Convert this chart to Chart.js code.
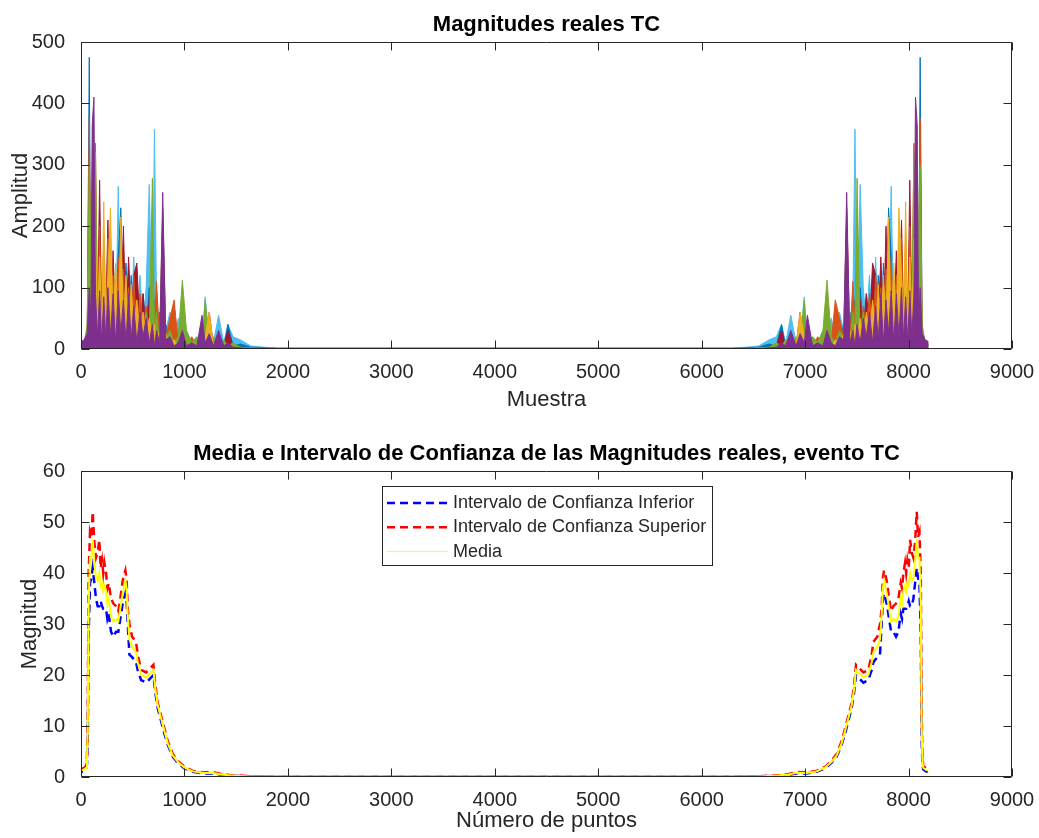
<!DOCTYPE html>
<html>
<head>
<meta charset="utf-8">
<title>Magnitudes reales TC</title>
<script src="https://cdn.jsdelivr.net/npm/chart.js@4.4.1/dist/chart.umd.min.js"></script>
<style>
body { margin: 0; background: #fff; }
canvas { position: absolute; left: 0; }
#magnitudes { top: 0; }
#confianza { top: 419px; }
</style>
</head>
<body>
<canvas id="magnitudes" width="1039" height="419"></canvas>
<canvas id="confianza" width="1039" height="419"></canvas>
<script>
// muestras del espectro (mitad izquierda y su espejo a la derecha)
const muestraX = [0,30,60,80,95,110,125,140,160,180,200,220,240,260,285,310,335,360,385,410,435,460,485,510,540,570,600,630,660,690,710,730,760,790,820,860,900,940,980,1020,1070,1120,1170,1200,1240,1280,1330,1380,1420,1470,1540,1640,1760,1900,
	6292,6432,6552,6652,6722,6772,6812,6862,6912,6952,6992,7022,7072,7122,7172,7212,7252,7292,7332,7372,7402,7432,7462,7482,7502,7532,7562,7592,7622,7652,7682,7707,7732,7757,7782,7807,7832,7857,7882,7907,7932,7952,7972,7992,8012,8032,8052,8067,8082,8097,8112,8132,8162,8192]

const amplitud1 = [10,12,20,475,60,150,40,120,30,90,20,140,35,110,25,130,40,150,230,60,140,30,120,25,110,20,90,30,100,15,80,20,60,10,40,8,30,5,60,10,15,5,20,8,30,5,20,3,40,5,8,3,2,1,
	1,2,3,8,5,40,3,20,5,30,8,20,5,15,10,60,5,30,8,40,10,60,20,80,15,100,30,90,20,110,25,120,30,140,60,230,150,40,130,25,110,35,140,20,90,30,120,40,150,60,475,20,12,10]
const amplitud2 = [8,10,30,375,120,290,60,335,50,200,40,160,30,180,60,120,30,150,40,130,25,100,30,120,20,90,35,70,20,170,40,110,15,230,20,50,80,10,40,5,20,5,10,30,5,15,3,10,2,5,2,1,1,0.5,
	0.5,1,1,2,5,2,10,3,15,5,30,10,5,20,5,40,10,80,50,20,230,15,110,40,170,20,70,35,90,20,120,30,100,25,130,40,150,30,120,60,180,30,160,40,200,50,335,60,290,120,375,30,10,8]
const amplitud3 = [5,6,15,60,30,100,20,180,40,150,30,240,50,120,230,40,140,30,215,40,120,20,105,30,80,20,60,15,50,20,40,10,30,5,25,5,15,3,10,3,8,2,5,20,60,5,10,2,4,1,2,1,0.5,0.3,
	0.3,0.5,1,2,1,4,2,10,5,60,20,5,2,8,3,10,3,15,5,25,5,30,10,40,20,50,15,60,20,80,30,105,20,120,40,215,30,140,40,230,120,50,240,30,150,40,180,20,100,30,60,15,6,5]
const amplitud4 = [12,15,25,100,40,370,410,90,20,95,10,85,15,100,20,90,10,95,25,80,10,90,15,70,10,60,20,50,10,40,5,30,10,255,15,20,5,10,30,5,10,5,55,10,25,5,30,5,10,3,2,1,0.5,0.3,
	0.3,0.5,1,2,3,10,5,30,5,25,10,55,5,10,5,30,10,5,20,15,255,10,30,5,40,10,50,20,60,10,70,15,90,10,80,25,95,10,90,20,100,15,85,10,95,20,90,410,370,40,100,25,15,12]
const amplitud5 = [6,8,40,300,150,365,100,320,60,130,30,110,20,90,30,80,15,70,20,60,10,70,20,50,10,40,15,60,20,278,30,60,10,220,20,30,10,20,112,30,10,20,5,80,10,20,5,15,5,10,3,2,1,0.5,
	0.5,1,2,3,10,5,15,5,20,10,80,5,20,10,30,112,20,10,30,20,220,10,60,30,278,20,60,15,40,10,50,20,70,10,60,20,70,15,80,30,90,20,110,30,130,60,320,100,365,150,300,40,8,6]
const amplitud6 = [4,6,12,40,20,80,30,70,25,110,20,90,30,120,40,100,30,265,50,150,30,140,40,150,30,120,40,100,268,30,358,80,40,90,30,60,20,50,15,30,10,20,5,85,15,10,55,10,40,20,15,5,3,2,
	2,3,5,15,20,40,10,55,10,15,85,5,20,10,30,15,50,20,60,30,90,40,80,358,30,268,100,40,120,30,150,40,140,30,150,50,265,30,100,40,120,30,90,20,110,25,70,30,80,20,40,12,6,4]
const amplitud7 = [7,9,20,80,40,150,60,200,50,275,40,180,50,210,30,160,40,130,50,200,30,150,40,120,140,30,90,20,80,15,60,20,40,10,30,5,20,5,70,10,15,5,20,10,60,5,20,5,30,5,3,1,0.5,0.3,
	0.3,0.5,1,3,5,30,5,20,5,60,10,20,5,15,10,70,5,20,5,30,10,40,20,60,15,80,20,90,30,140,120,40,150,30,200,50,130,40,160,30,210,50,180,40,275,50,200,60,150,40,80,20,9,7]

// media e intervalo de confianza
const puntosX = [0,25,50,58,65,74,87,100,113,129,145,161,177,190,203,215,226,242,255,268,290,313,339,361,380,403,429,440,452,468,494,532,548,581,629,677,700,719,742,774,806,839,887,935,1000,1081,1177,1274,1350,1435,1629,2000,3000,
	4096,
	5192,6192,6563,6757,6842,6918,7015,7111,7192,7257,7305,7353,7386,7418,7450,7473,7492,7515,7563,7611,7644,7660,7698,7724,7740,7752,7763,7789,7812,7831,7853,7879,7902,7924,7937,7950,7966,7977,7989,8002,8015,8031,8047,8063,8079,8092,8105,8118,8127,8134,8142,8167,8192]
const icInferior = [1.0,1.1,1.5,2.5,7,28,38,39,41,38,35,33.5,33.5,34.5,33.5,33,33,33,31,32,28.5,27.5,28.5,28.5,31,34,36,35,30,24,23.5,22.5,21,19,18.5,19.5,20,16.5,13.5,11,8.5,6.3,4,2.8,1.7,1.0,0.7,0.7,0.45,0.3,0.1,0.05,0.05,
	0.05,
	0.05,0.05,0.1,0.3,0.45,0.7,0.7,1.0,1.7,2.8,4,6.3,8.5,11,13.5,16.5,20,19.5,18.5,19,21,22.5,23.5,24,30,35,36,34,31,28.5,28.5,27.5,28.5,32,31,33,33,33,33.5,34.5,33.5,33.5,35,38,41,39,38,28,7,2.5,1.5,1.1,1.0]
const icSuperior = [1.6,1.7,2.2,4,12,40,48,47,52,46,43,44,46.5,41,42.5,40,42,40,37,38,35,34,33.5,32.5,35,38.5,40.5,39,33,30,27.5,26.5,24,21,20.5,21.5,22,18,14.5,12,9.5,7,4.5,3.2,2,1.2,0.9,1.0,0.6,0.4,0.15,0.1,0.1,
	0.1,
	0.1,0.1,0.15,0.4,0.6,1.0,0.9,1.2,2,3.2,4.5,7,9.5,12,14.5,18,22,21.5,20.5,21,24,26.5,27.5,30,33,39,40.5,38.5,35,32.5,33.5,34,35,38,37,40,42,40,42.5,41,46.5,44,43,46,52,47,48,40,12,4,2.2,1.7,1.6]
const media = [1.3,1.4,1.8,3.2,9.5,34,43,43,46.5,42,39,38.5,40,37.5,38,36.5,37.5,36.5,34,35,31.5,30.5,31,30.5,33,36,38.5,37,31.5,27,25.5,24.5,22.5,20,19.5,20.5,21,17.2,14,11.5,9,6.6,4.2,3,1.85,1.1,0.8,0.85,0.5,0.35,0.12,0.08,0.08,
	0.08,
	0.08,0.08,0.12,0.35,0.5,0.85,0.8,1.1,1.85,3,4.2,6.6,9,11.5,14,17.2,21,20.5,19.5,20,22.5,24.5,25.5,27,31.5,37,38.5,36,33,30.5,31,30.5,31.5,35,34,36.5,37.5,36.5,38,37.5,40,38.5,39,42,46.5,43,43,34,9.5,3.2,1.8,1.4,1.3]

const ticksX = [0,1000,2000,3000,4000,5000,6000,7000,8000,9000]
const ticksAmplitud = [0,100,200,300,400,500]
const ticksMagnitud = [0,10,20,30,40,50,60]

const coloresMatlab = ['#0072BD','#D95319','#EDB120','#7E2F8E','#77AC30','#4DBEEE','#A2142F']
const gris = '#262626'

Chart.defaults.font.family = "'Liberation Sans', Arial, Helvetica, sans-serif"
Chart.defaults.color = gris

function puntos(xs, ys) {
	return xs.map((x, i) => ({x: x, y: ys[i]}))
}

// caja tipo matlab con marcas hacia dentro en los cuatro lados
const marco = {
	id: 'marco',
	afterDatasetsDraw(chart, args, opts) {
		const ctx = chart.ctx
		const a = chart.chartArea
		const sx = chart.scales.x, sy = chart.scales.y
		const l = Math.round(a.left) + 0.5, r = Math.round(a.right) - 0.5
		const t = Math.round(a.top) + 0.5, b = Math.round(a.bottom) - 0.5
		ctx.save()
		ctx.strokeStyle = gris
		ctx.lineWidth = 1
		ctx.beginPath()
		ctx.rect(l, t, r - l, b - t)
		for (let tk of sx.ticks) {
			let px = Math.round(sx.getPixelForValue(tk.value)) + 0.5
			ctx.moveTo(px, b); ctx.lineTo(px, b - 8)
			ctx.moveTo(px, t); ctx.lineTo(px, t + 8)
		}
		for (let tk of sy.ticks) {
			let py = Math.round(sy.getPixelForValue(tk.value)) + 0.5
			ctx.moveTo(l, py); ctx.lineTo(l + 8, py)
			ctx.moveTo(r, py); ctx.lineTo(r - 8, py)
		}
		ctx.stroke()
		// titulo
		ctx.fillStyle = '#000'
		ctx.font = "bold 22px 'Liberation Sans', Arial, sans-serif"
		ctx.textAlign = 'center'
		ctx.textBaseline = 'middle'
		ctx.fillText(opts.titulo, (a.left + a.right) / 2, opts.y)
		ctx.restore()
	}
}

// leyenda dentro del area, arriba al centro
const leyenda = {
	id: 'leyenda',
	afterDraw(chart, args, opts) {
		if (!opts.mostrar) return
		const ctx = chart.ctx
		ctx.save()
		ctx.fillStyle = '#fff'
		ctx.fillRect(opts.x, opts.y, opts.w, opts.h)
		ctx.strokeStyle = gris
		ctx.lineWidth = 1
		ctx.strokeRect(opts.x + 0.5, opts.y + 0.5, opts.w, opts.h)
		ctx.font = "18px 'Liberation Sans', Arial, sans-serif"
		ctx.textBaseline = 'middle'
		ctx.textAlign = 'left'
		chart.data.datasets.forEach((ds, i) => {
			let yy = opts.y + 17 + i * 24.3
			ctx.beginPath()
			ctx.setLineDash(ds.borderDash || [])
			ctx.strokeStyle = ds.borderColor
			ctx.lineWidth = ds.borderDash ? ds.borderWidth : 1
			ctx.moveTo(opts.x + 5, yy)
			ctx.lineTo(opts.x + 66, yy)
			ctx.stroke()
			ctx.setLineDash([])
			ctx.fillStyle = gris
			ctx.fillText(ds.label, opts.x + 71, yy)
		})
		ctx.restore()
	}
}

function ejes(ticksY, ymax, tituloX, tituloY, padTituloX, padTituloY, altoX) {
	return {
		x: {
			type: 'linear', min: 0, max: 9000,
			afterBuildTicks: s => { s.ticks = ticksX.map(v => ({value: v})) },
			afterFit: s => { s.height = altoX; s.paddingLeft = 0; s.paddingRight = 0 },
			ticks: {font: {size: 20}, padding: 3, maxRotation: 0, autoSkip: false, callback: v => String(v)},
			grid: {display: false},
			border: {display: false},
			title: {display: true, text: tituloX, font: {size: 22}, padding: {top: 0, bottom: padTituloX}}
		},
		y: {
			type: 'linear', min: 0, max: ymax,
			afterBuildTicks: s => { s.ticks = ticksY.map(v => ({value: v})) },
			afterFit: s => { s.width = 81; s.paddingTop = 0; s.paddingBottom = 0 },
			ticks: {font: {size: 20}, padding: 8, autoSkip: false, callback: v => String(v)},
			grid: {display: false},
			border: {display: false},
			title: {display: true, text: tituloY, font: {size: 22}, padding: {top: padTituloY, bottom: 0}}
		}
	}
}

const series = [amplitud1, amplitud2, amplitud3, amplitud4, amplitud5, amplitud6, amplitud7]
// orden de dibujo: el morado queda delante, el azul claro detras
const ordenDibujo = [6, 4, 2, 1, 3, 7, 5]

new Chart('magnitudes', {
	type: 'line',
	data: {
		datasets: series.map((s, i) => ({
			label: 'Señal ' + (i + 1),
			data: puntos(muestraX, s),
			borderColor: coloresMatlab[i],
			backgroundColor: coloresMatlab[i],
			borderWidth: 1,
			pointRadius: 0,
			tension: 0,
			fill: 'origin',
			order: ordenDibujo[i]
		}))
	},
	options: {
		responsive: false,
		animation: false,
		events: [],
		layout: {padding: {left: 0, right: 27, top: 42, bottom: 0}},
		scales: ejes(ticksAmplitud, 500, 'Muestra', 'Amplitud', 6, 8, 70),
		plugins: {
			legend: {display: false},
			tooltip: {enabled: false},
			filler: {drawTime: 'beforeDatasetDraw'},
			marco: {titulo: 'Magnitudes reales TC', y: 25},
			leyenda: {mostrar: false}
		}
	},
	plugins: [marco, leyenda]
})

new Chart('confianza', {
	type: 'line',
	data: {
		datasets: [
			{
				label: 'Intervalo de Confianza Inferior',
				data: puntos(puntosX, icInferior),
				borderColor: '#0000FF',
				borderWidth: 2.5,
				borderDash: [8, 5],
				borderDashOffset: 6,
				order: 2
			},
			{
				label: 'Intervalo de Confianza Superior',
				data: puntos(puntosX, icSuperior),
				borderColor: '#FF0000',
				borderWidth: 2.5,
				borderDash: [8, 5],
				order: 1
			},
			{
				label: 'Media',
				data: puntos(puntosX, media),
				borderColor: '#FFFF00',
				borderWidth: 2,
				order: 0
			}
		]
	},
	options: {
		responsive: false,
		animation: false,
		events: [],
		elements: {point: {radius: 0}, line: {tension: 0, fill: false}},
		layout: {padding: {left: 0, right: 27, top: 52, bottom: 0}},
		scales: ejes(ticksMagnitud, 60, 'Número de puntos', 'Magnitud', 4, 17, 61),
		plugins: {
			legend: {display: false},
			tooltip: {enabled: false},
			marco: {titulo: 'Media e Intervalo de Confianza de las Magnitudes reales, evento TC', y: 35},
			leyenda: {mostrar: true, x: 382, y: 67, w: 330, h: 79}
		}
	},
	plugins: [marco, leyenda]
})
</script>
</body>
</html>
